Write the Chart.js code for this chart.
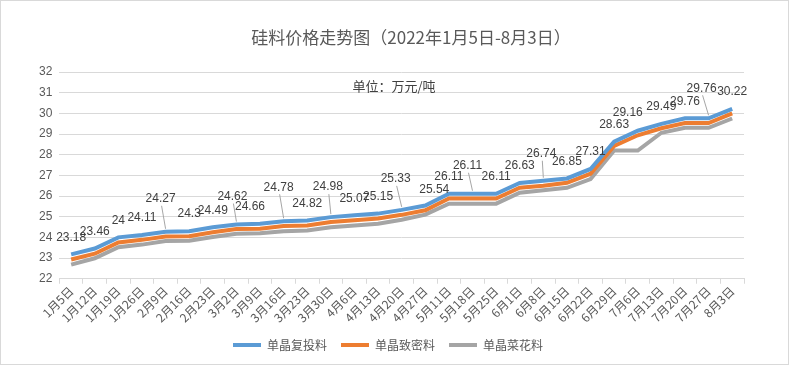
<!DOCTYPE html>
<html>
<head>
<meta charset="utf-8">
<script src="https://cdn.jsdelivr.net/npm/chart.js@4.4.0/dist/chart.umd.min.js"></script>
<style>
  body { margin: 0; background: #fff; }
  #js--chart { display: block; }
</style>
</head>
<body>
<canvas id="js--chart" width="789" height="365"></canvas>
<script>
const categories = [
  "1月5日", "1月12日", "1月19日", "1月26日", "2月9日", "2月16日", "2月23日",
  "3月2日", "3月9日", "3月16日", "3月23日", "3月30日", "4月6日", "4月13日",
  "4月20日", "4月27日", "5月11日", "5月18日", "5月25日", "6月1日", "6月8日",
  "6月15日", "6月22日", "6月29日", "7月6日", "7月13日", "7月20日", "7月27日", "8月3日",
];

// 单晶复投料
const fuTou = [
  23.18, 23.46, 24, 24.11, 24.27, 24.3, 24.49, 24.62, 24.66, 24.78,
  24.82, 24.98, 25.07, 25.15, 25.33, 25.54, 26.11, 26.11, 26.11, 26.63,
  26.74, 26.85, 27.31, 28.63, 29.16, 29.49, 29.76, 29.76, 30.22,
];

// 单晶致密料
const zhiMi = [
  22.93, 23.21, 23.75, 23.88, 24.04, 24.06, 24.25, 24.4, 24.42, 24.55,
  24.57, 24.74, 24.83, 24.91, 25.09, 25.31, 25.88, 25.88, 25.88, 26.4,
  26.5, 26.64, 27.08, 28.42, 28.94, 29.28, 29.53, 29.53, 30.0,
];

// 单晶菜花料
const caiHua = [
  22.68, 22.99, 23.52, 23.65, 23.82, 23.84, 24.02, 24.18, 24.2, 24.3,
  24.33, 24.49, 24.58, 24.66, 24.85, 25.1, 25.63, 25.63, 25.63, 26.16,
  26.28, 26.4, 26.82, 28.2, 28.2, 29.06, 29.3, 29.3, 29.75,
];

const yMin = 22;
const yMax = 32;
const yStep = 1;

const seriesNames = ["单晶复投料", "单晶致密料", "单晶菜花料"];
const seriesColors = ["#5b9bd5", "#ed7d31", "#a5a5a5"];

// label nudges for the 单晶复投料 value labels (index: [dx, dy])
const labelNudge = {
  4: [-5, -33], 7: [-4, -28], 8: [-10, -17], 9: [-5, -34], 11: [-3, -30],
  14: [-6, -31], 15: [9, -16], 17: [-5, -28], 20: [-2, -27], 24: [-10, -18],
  27: [-7, -30],
};
const leaderLines = [4, 7, 9, 11, 14, 17, 20, 27];

const extras = {
  id: "extras",
  beforeDraw(chart) {
    const ctx = chart.ctx;
    ctx.save();
    ctx.fillStyle = "#ffffff";
    ctx.fillRect(0, 0, chart.width, chart.height);
    ctx.restore();
  },
  afterDraw(chart) {
    const ctx = chart.ctx;
    ctx.save();
    // frame
    ctx.strokeStyle = "#d9d9d9";
    ctx.lineWidth = 1;
    ctx.strokeRect(0.5, 0.5, chart.width - 1, chart.height - 1);

    // title
    ctx.fillStyle = "#595959";
    ctx.font = "17px 'Noto Sans CJK SC', sans-serif";
    ctx.textAlign = "center";
    ctx.textBaseline = "middle";
    ctx.fillText("硅料价格走势图（2022年1月5日-8月3日）", 411, 38);

    // unit
    ctx.fillStyle = "#404040";
    ctx.font = "13px 'Noto Sans CJK SC', sans-serif";
    ctx.fillText("单位：万元/吨", 394, 86);

    // value labels
    const meta = chart.getDatasetMeta(0);
    ctx.font = "12px 'Liberation Sans', sans-serif";
    meta.data.forEach(function (pt, i) {
      const nudge = labelNudge[i] || [0, -17];
      const lx = pt.x + nudge[0];
      const ly = pt.y + nudge[1];
      if (leaderLines.indexOf(i) !== -1) {
        ctx.strokeStyle = "#a6a6a6";
        ctx.lineWidth = 1;
        ctx.beginPath();
        ctx.moveTo(lx + 1, ly + 7);
        ctx.lineTo(pt.x, pt.y - 3);
        ctx.stroke();
      }
      ctx.fillStyle = "#404040";
      ctx.fillText(String(fuTou[i]), lx, ly);
    });
    ctx.restore();
  },
};

const datasets = [fuTou, zhiMi, caiHua].map(function (values, i) {
  return {
    label: seriesNames[i],
    data: values,
    borderColor: seriesColors[i],
    backgroundColor: seriesColors[i],
    borderWidth: 4,
    pointRadius: 0,
    tension: 0,
  };
});

new Chart(document.getElementById("js--chart"), {
  type: "line",
  data: { labels: categories, datasets: datasets },
  plugins: [extras],
  options: {
    responsive: false,
    animation: false,
    devicePixelRatio: 1,
    layout: { padding: { top: 72, left: 32, right: 45, bottom: 4 } },
    plugins: {
      title: { display: false },
      tooltip: { enabled: false },
      legend: {
        position: "bottom",
        labels: {
          boxWidth: 28,
          boxHeight: 4,
          padding: 14,
          color: "#595959",
          font: { size: 12, family: "'Noto Sans CJK SC', sans-serif" },
          generateLabels: function (chart) {
            return Chart.defaults.plugins.legend.labels.generateLabels(chart).map(function (item) {
              item.lineWidth = 0;
              return item;
            });
          },
        },
      },
    },
    scales: {
      x: {
        offset: true,
        grid: {
          offset: true,
          drawOnChartArea: false,
          drawTicks: true,
          tickLength: 5,
          color: "#d9d9d9",
        },
        border: { color: "#d9d9d9", width: 1 },
        ticks: {
          autoSkip: false,
          minRotation: 45,
          maxRotation: 45,
          padding: 0,
          color: "#595959",
          font: { size: 12, family: "'Noto Sans CJK SC', sans-serif" },
        },
      },
      y: {
        min: yMin,
        max: yMax,
        grid: { color: "#d9d9d9", drawTicks: false },
        border: { display: false },
        ticks: {
          stepSize: yStep,
          padding: 7,
          color: "#595959",
          font: { size: 12, family: "'Liberation Sans', sans-serif" },
        },
      },
    },
  },
});
</script>
</body>
</html>
